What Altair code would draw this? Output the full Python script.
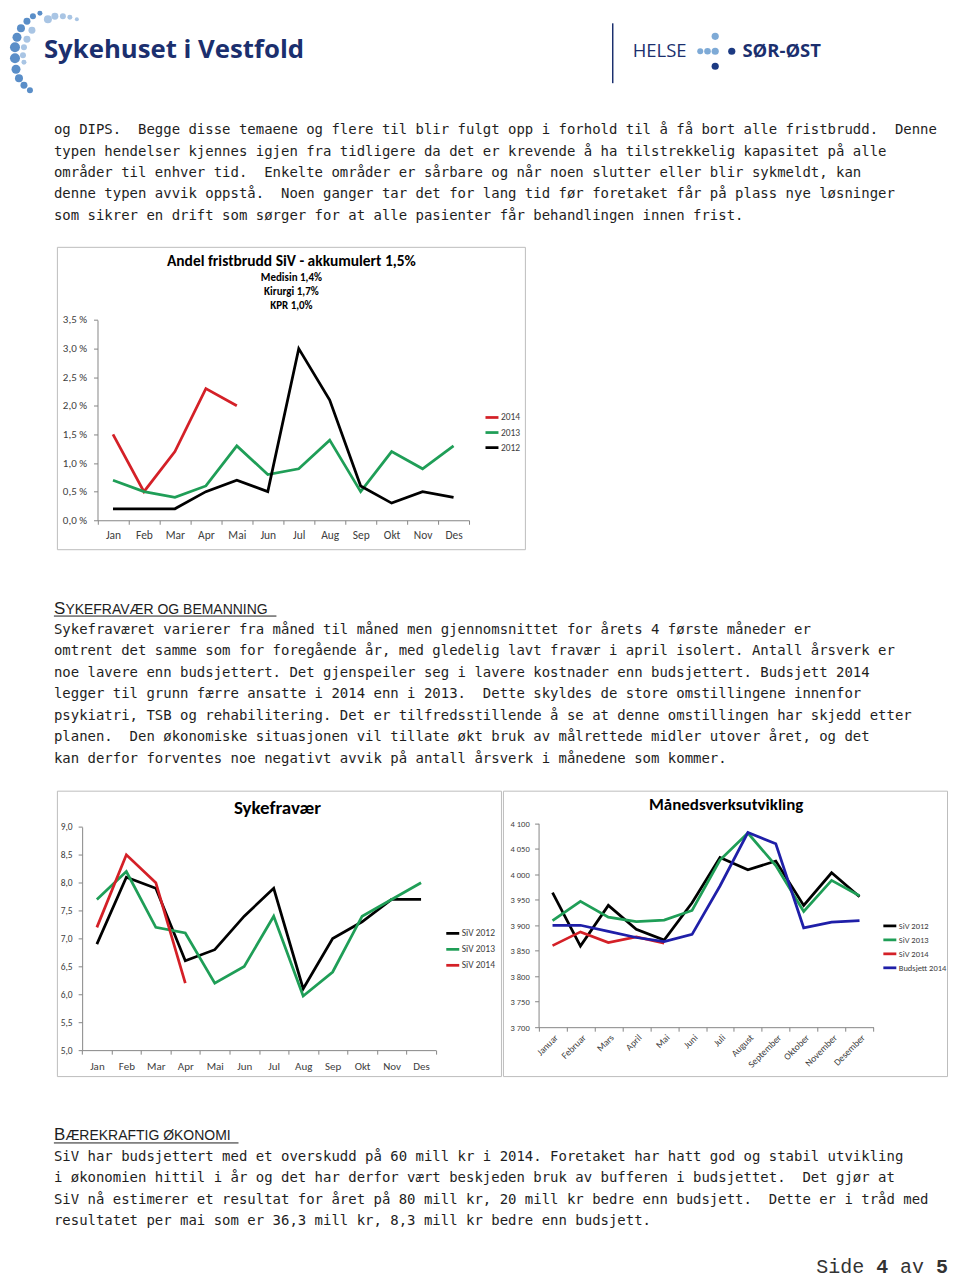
import altair as alt
import pandas as pd

# ---------------- data ----------------
MONTHS = ["Jan", "Feb", "Mar", "Apr", "Mai", "Jun", "Jul", "Aug", "Sep", "Okt", "Nov", "Des"]
MONTHS_LONG = ["Januar", "Februar", "Mars", "April", "Mai", "Juni", "Juli", "August",
               "September", "Oktober", "November", "Desember"]

FRIST_2014 = [1.5, 0.5, 1.2, 2.3, 2.0]
FRIST_2013 = [0.7, 0.5, 0.4, 0.6, 1.3, 0.8, 0.9, 1.4, 0.5, 1.2, 0.9, 1.3]
FRIST_2012 = [0.2, 0.2, 0.2, 0.5, 0.7, 0.5, 3.0, 2.1, 0.6, 0.3, 0.5, 0.4]

SYK_2012 = [6.9, 8.1, 7.9, 6.6, 6.8, 7.4, 7.9, 6.1, 7.0, 7.3, 7.7, 7.7]
SYK_2013 = [7.7, 8.2, 7.2, 7.1, 6.2, 6.5, 7.4, 5.97, 6.4, 7.4, 7.7, 8.0]
SYK_2014 = [7.2, 8.5, 8.0, 6.2]

MV_2012 = [3964, 3859, 3939, 3892, 3871, 3944, 4033, 4009, 4026, 3939, 4003, 3956]
MV_2013 = [3909, 3947, 3916, 3907, 3910, 3929, 4028, 4081, 4017, 3927, 3988, 3958]
MV_2014 = [3860, 3887, 3866, 3877, 3865]
MV_BUDSJETT = [3900, 3900, 3888, 3876, 3868, 3882, 3977, 4082, 4060, 3895, 3906, 3909]

FRIST_Y_TICKS = [0, 0.5, 1.0, 1.5, 2.0, 2.5, 3.0, 3.5]
SYK_Y_TICKS = [5.0, 5.5, 6.0, 6.5, 7.0, 7.5, 8.0, 8.5, 9.0]
MV_Y_TICKS = [3700, 3750, 3800, 3850, 3900, 3950, 4000, 4050, 4100]

NB = "\u00a0 "  # double space after a full stop, as in the original
PARA1 = [
    "og DIPS." + NB + "Begge disse temaene og flere til blir fulgt opp i forhold til å få bort alle fristbrudd." + NB + "Denne",
    "typen hendelser kjennes igjen fra tidligere da det er krevende å ha tilstrekkelig kapasitet på alle",
    "områder til enhver tid." + NB + "Enkelte områder er sårbare og når noen slutter eller blir sykmeldt, kan",
    "denne typen avvik oppstå." + NB + "Noen ganger tar det for lang tid før foretaket får på plass nye løsninger",
    "som sikrer en drift som sørger for at alle pasienter får behandlingen innen frist.",
]
PARA2 = [
    "Sykefraværet varierer fra måned til måned men gjennomsnittet for årets 4 første måneder er",
    "omtrent det samme som for foregående år, med gledelig lavt fravær i april isolert. Antall årsverk er",
    "noe lavere enn budsjettert. Det gjenspeiler seg i lavere kostnader enn budsjettert. Budsjett 2014",
    "legger til grunn færre ansatte i 2014 enn i 2013." + NB + "Dette skyldes de store omstillingene innenfor",
    "psykiatri, TSB og rehabilitering. Det er tilfredsstillende å se at denne omstillingen har skjedd etter",
    "planen." + NB + "Den økonomiske situasjonen vil tillate økt bruk av målrettede midler utover året, og det",
    "kan derfor forventes noe negativt avvik på antall årsverk i månedene som kommer.",
]
PARA3 = [
    "SiV har budsjettert med et overskudd på 60 mill kr i 2014. Foretaket har hatt god og stabil utvikling",
    "i økonomien hittil i år og det har derfor vært beskjeden bruk av bufferen i budsjettet." + NB + "Det gjør at",
    "SiV nå estimerer et resultat for året på 80 mill kr, 20 mill kr bedre enn budsjett." + NB + "Dette er i tråd med",
    "resultatet per mai som er 36,3 mill kr, 8,3 mill kr bedre enn budsjett.",
]

# ---------------- style ----------------
BODY_FONT = "DejaVu Sans Mono"
HEAD_FONT = "Liberation Sans"
CHART_FONT = "Carlito, Lato, sans-serif"
LOGO_FONT = "Open Sans"
TEXT = "#1e1e1e"
NAVY = "#1b2f6e"
AXIS = "#868686"
LABEL = "#404040"
BORDER = "#bdbdbd"
RED = "#d42027"
GREEN = "#1f9e57"
BLACK = "#000000"
BLUE = "#1f1fa8"
NOVIEW = alt.ViewBackground(stroke="transparent")
PAGE_W = 944
BODY_SIZE = 14.0
LINE_H = 21.5
LEFT = 45  # left margin of the body text


def long_df(series):
    rows = []
    for name, months, vals in series:
        for m, v in zip(months, vals):
            rows.append({"month": m, "value": v, "series": name})
    return pd.DataFrame(rows)


def txt(text, x, y, size, weight="normal", font=BODY_FONT, color=TEXT, align="left",
        baseline="alphabetic", line_height=None):
    kw = dict(font=font, fontSize=size, fontWeight=weight, color=color, align=align, baseline=baseline)
    if line_height is not None:
        kw.update(lineBreak="\n", lineHeight=line_height)
    return alt.Chart(pd.DataFrame({"t": [text]})).mark_text(**kw).encode(
        text="t:N", x=alt.value(x), y=alt.value(y))


def hrule(x1, x2, y, color=TEXT, width=1.0):
    return alt.Chart(pd.DataFrame({"a": [0]})).mark_rule(color=color, strokeWidth=width).encode(
        x=alt.value(x1), x2=alt.value(x2), y=alt.value(y))


def vrule(x, y1, y2, color=NAVY, width=1.5):
    return alt.Chart(pd.DataFrame({"a": [0]})).mark_rule(color=color, strokeWidth=width).encode(
        x=alt.value(x), y=alt.value(y1), y2=alt.value(y2))


def dot(x, y, r, color):
    # Vega draws a circle symbol with diameter sqrt(size)
    return alt.Chart(pd.DataFrame({"a": [0]})).mark_circle(color=color, opacity=1).encode(
        x=alt.value(x), y=alt.value(y), size=alt.value(4 * r * r))


def spacer(w, h):
    return alt.Chart(pd.DataFrame({"a": [0]})).mark_rule(strokeOpacity=0, strokeWidth=0).encode(
        x=alt.value(1), y=alt.value(1), y2=alt.value(2)).properties(width=w, height=h, view=NOVIEW)


def excel_chart(df, domain_x, names, colors, box_w, box_h, x0, x1, y_top, y_bot, y_dom, y_vals,
                y_expr, y_size, y_pad, x_size, x_pad, x_angle, leg_x, leg_y, leg_size, leg_pad, titles):
    line = alt.Chart(df).mark_line(strokeWidth=2.75).encode(
        x=alt.X("month:N", title=None, bandPosition=0.5,
                scale=alt.Scale(type="band", domain=domain_x, range=[x0, x1],
                                paddingInner=0, paddingOuter=0),
                axis=alt.Axis(offset=-(box_h - y_bot), tickBand="extent", tickSize=4,
                              labelPadding=x_pad, labelAngle=x_angle, labelFont=CHART_FONT,
                              labelFontSize=x_size, labelColor=LABEL, domainColor=AXIS,
                              tickColor=AXIS, grid=False, labelOverlap=False)),
        y=alt.Y("value:Q", title=None,
                scale=alt.Scale(domain=y_dom, range=[y_bot, y_top], nice=False, zero=False),
                axis=alt.Axis(offset=-x0, values=y_vals, labelExpr=y_expr, tickSize=4,
                              labelPadding=y_pad, labelFont=CHART_FONT, labelFontSize=y_size,
                              labelColor=LABEL, domainColor=AXIS, tickColor=AXIS, grid=False,
                              labelOverlap=False, labelFlush=False)),
        color=alt.Color("series:N", scale=alt.Scale(domain=names, range=colors),
                        legend=alt.Legend(title=None, orient="none", legendX=leg_x, legendY=leg_y,
                                          symbolType="stroke", symbolSize=169,
                                          symbolStrokeWidth=2.75, labelFont=CHART_FONT,
                                          labelFontSize=leg_size, labelColor=LABEL,
                                          rowPadding=leg_pad, labelOffset=1, padding=0)),
    )
    layers = [line] + [txt(t, x, y, s, "bold", font=CHART_FONT, color=BLACK, align="center",
                           baseline="middle") for (t, x, y, s) in titles]
    return alt.layer(*layers).properties(
        width=box_w, height=box_h, view=alt.ViewBackground(stroke=BORDER, strokeWidth=1))


def independent(c):
    return c.resolve_scale(color="independent", x="independent", y="independent").resolve_legend(
        color="independent")


# ---------------- block A: header + paragraph 1 ----------------
LIGHT = "#a9c5e4"
MID = "#5a8ec8"
HSO_LIGHT = "#7eaad6"
HSO_DARK = "#1c3a82"
logo_layers = [
    dot(31, 3, 2.5, MID), dot(24, 6, 3, MID), dot(18, 11, 3.5, MID), dot(12, 18, 4, MID),
    dot(8, 27, 4.5, MID), dot(6, 37, 5, MID), dot(6, 48, 5, MID), dot(7, 59, 4.5, MID),
    dot(10, 68, 4, MID), dot(15, 75, 3.5, MID), dot(21, 80, 3, MID),
    dot(39, 9, 4, LIGHT), dot(46, 6, 3.5, LIGHT), dot(54, 6, 3, LIGHT), dot(61, 7, 2.5, LIGHT),
    dot(68, 9, 2, LIGHT), dot(23, 20, 3.5, LIGHT), dot(18, 29, 3.5, LIGHT), dot(15, 37, 3, LIGHT),
    dot(14, 45, 3, LIGHT), dot(15, 52, 2.5, LIGHT),
    txt("Sykehuset i Vestfold", 35, 48, 25.8, "bold", font=LOGO_FONT, color=NAVY),
    vrule(605, 13, 73),
    txt("HELSE", 625, 47, 18.5, font=LOGO_FONT, color=NAVY),
    dot(692.7, 41, 3, HSO_LIGHT), dot(700, 41, 3.3, HSO_LIGHT), dot(707.7, 41, 3.6, HSO_LIGHT),
    dot(707.7, 26, 3.6, HSO_LIGHT), dot(707.7, 56, 3.6, HSO_DARK), dot(724.3, 41, 3.6, HSO_DARK),
    txt("SØR-ØST", 735, 47, 18.5, "bold", font=LOGO_FONT, color=NAVY),
    txt("\n".join(PARA1), LEFT, 124, BODY_SIZE, line_height=LINE_H),
]
blockA = alt.layer(*logo_layers).properties(width=PAGE_W, height=235, view=NOVIEW)

# ---------------- block B: chart 1 ----------------
df1 = long_df([("2014", MONTHS, FRIST_2014), ("2013", MONTHS, FRIST_2013), ("2012", MONTHS, FRIST_2012)])
chart1 = excel_chart(
    df1, MONTHS, ["2014", "2013", "2012"], [RED, GREEN, BLACK],
    469, 303, 40.7, 413, 73.3, 274, [0, 3.5], FRIST_Y_TICKS,
    "replace(format(datum.value, '.1f'), '.', ',') + ' %'", 11, 7, 11.5, 5, 0,
    428, 163, 9.5, 1.1,
    [("Andel fristbrudd SiV - akkumulert 1,5%", 235, 14.7, 15.5),
     ("Medisin 1,4%", 235, 31.3, 11), ("Kirurgi 1,7%", 235, 45.3, 11), ("KPR 1,0%", 235, 59.7, 11)])
blockB = independent(alt.hconcat(spacer(46, 303), chart1, spacing=0))

# ---------------- block C: heading + paragraph 2 ----------------
blockC = alt.layer(
    txt("S", LEFT, 62.5, 17, font=HEAD_FONT),
    txt("YKEFRAVÆR OG BEMANNING", LEFT + 11.5, 62.5, 14, font=HEAD_FONT),
    hrule(LEFT, LEFT + 223, 65),
    txt("\n".join(PARA2), LEFT, 83, BODY_SIZE, line_height=LINE_H),
).properties(width=PAGE_W, height=238, view=NOVIEW)

# ---------------- block D: charts 2 and 3 ----------------
df2 = long_df([("SiV 2012", MONTHS, SYK_2012), ("SiV 2013", MONTHS, SYK_2013), ("SiV 2014", MONTHS, SYK_2014)])
chart2 = excel_chart(
    df2, MONTHS, ["SiV 2012", "SiV 2013", "SiV 2014"], [BLACK, GREEN, RED],
    445, 286, 25.3, 379.7, 36.3, 260, [5, 9], SYK_Y_TICKS,
    "replace(format(datum.value, '.1f'), '.', ',')", 9.5, 6, 11, 6, 0,
    388.7, 135, 9.5, 2.0,
    [("Sykefravær", 221, 17, 19)])
df3 = long_df([("SiV 2012", MONTHS_LONG, MV_2012), ("SiV 2013", MONTHS_LONG, MV_2013),
               ("SiV 2014", MONTHS_LONG, MV_2014), ("Budsjett 2014", MONTHS_LONG, MV_BUDSJETT)])
chart3 = excel_chart(
    df3, MONTHS_LONG, ["SiV 2012", "SiV 2013", "SiV 2014", "Budsjett 2014"], [BLACK, GREEN, RED, BLUE],
    445, 286, 35.7, 371.3, 32.7, 237, [3700, 4100], MV_Y_TICKS,
    "replace(format(datum.value, ','), ',', ' ')", 8.5, 5.4, 9.5, 1, -45,
    379.7, 127.5, 8.5, 0,
    [("Månedsverksutvikling", 223.7, 14, 17)])
blockD = independent(alt.hconcat(spacer(46, 286), chart2, chart3, spacing=0))

# ---------------- block E: heading + paragraph 3 + footer ----------------
MONO = "Liberation Mono"
blockE = alt.layer(
    txt("B", LEFT, 62, 17, font=HEAD_FONT),
    txt("ÆREKRAFTIG ØKONOMI", LEFT + 11.5, 62, 14, font=HEAD_FONT),
    hrule(LEFT, LEFT + 185, 65),
    txt("\n".join(PARA3), LEFT, 83, BODY_SIZE, line_height=LINE_H),
    txt("Side", 809, 195, 20, font=MONO, color="#333333"),
    txt("4", 869, 195, 20, "bold", font=MONO, color="#333333"),
    txt("av", 893, 195, 20, font=MONO, color="#333333"),
    txt("5", 929, 195, 20, "bold", font=MONO, color="#333333"),
).properties(width=PAGE_W, height=195, view=NOVIEW)

chart = independent(alt.vconcat(blockA, blockB, blockC, blockD, blockE, spacing=0)).properties(padding=0)

chart.save("out.html", embed_options={"renderer": "svg", "actions": False})
